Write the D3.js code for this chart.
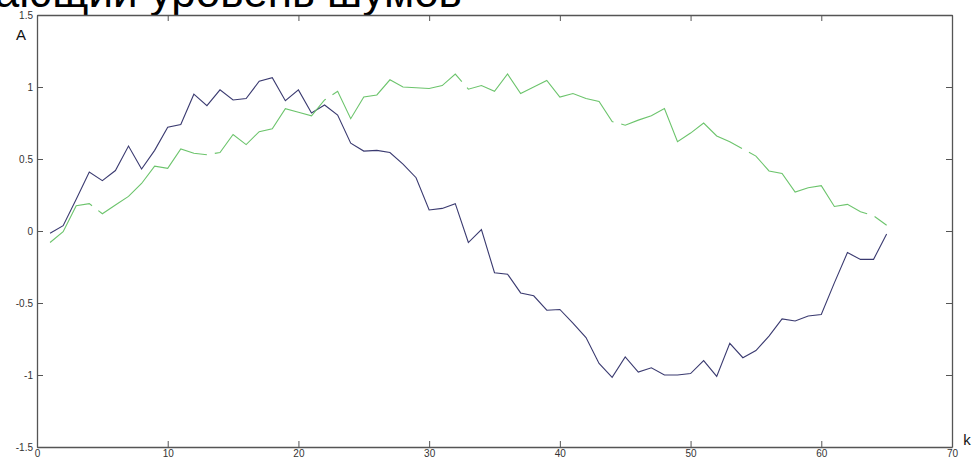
<!DOCTYPE html>
<html><head><meta charset="utf-8">
<script src="https://cdn.jsdelivr.net/npm/d3@7"></script>
<style>html,body{margin:0;padding:0;background:#fff;overflow:hidden}</style>
</head><body>
<script>
const titleText = "Нарастающий уровень шумов";
const xLabel = "k", yLabel = "A";
const xTicks = [0,10,20,30,40,50,60,70];
const yTicks = [-1.5,-1,-0.5,0,0.5,1,1.5];
const kValues = d3.range(1,66);
const blueValues = [-0.016,0.037,0.22,0.41,0.35,0.42,0.59,0.43,0.56,0.72,0.74,0.95,0.87,0.98,0.91,0.92,1.04,1.065,0.905,0.98,0.82,0.875,0.805,0.61,0.555,0.56,0.545,0.465,0.37,0.146,0.157,0.19,-0.08,0.01,-0.29,-0.30,-0.43,-0.45,-0.55,-0.545,-0.64,-0.74,-0.92,-1.016,-0.875,-0.98,-0.95,-1.0,-1.0,-0.99,-0.90,-1.01,-0.78,-0.88,-0.83,-0.73,-0.61,-0.625,-0.59,-0.58,-0.36,-0.15,-0.197,-0.197,-0.02];
const greenValues = [-0.08,-0.005,0.175,0.19,0.12,0.18,0.24,0.33,0.45,0.435,0.57,0.54,0.53,0.545,0.67,0.60,0.69,0.71,0.85,0.825,0.80,0.91,0.97,0.78,0.93,0.945,1.05,1.0,0.995,0.99,1.01,1.09,0.985,1.01,0.97,1.09,0.955,1.0,1.045,0.93,0.955,0.92,0.90,0.76,0.735,0.77,0.80,0.85,0.62,0.68,0.75,0.66,0.62,0.57,0.52,0.417,0.40,0.27,0.30,0.315,0.17,0.185,0.134,0.106,0.04];
const greenGapsK = [4.45,13.3,22.35,32.7,44.4,54.2,63.8];

const W=976,H=464;
const m={l:37,r:24,t:15,b:17};
const svg=d3.select("body").append("svg").attr("width",W).attr("height",H);
const x=d3.scaleLinear().domain([0,70]).range([m.l,W-m.r]);
const y=d3.scaleLinear().domain([-1.5,1.5]).range([H-m.b,m.t]);

// title (partly cut off at top)
svg.append("text").attr("x",462).attr("y",7).attr("text-anchor","end")
  .attr("font-family","Liberation Sans, Arial, sans-serif").attr("font-size",44).attr("fill","#000")
  .text(titleText);

const axCol="#555";
const fontF="Liberation Sans, Arial, sans-serif";
const gB=svg.append("g").attr("transform",`translate(0,${y(-1.5)})`)
  .call(d3.axisBottom(x).tickValues(xTicks).tickSizeInner(-6).tickSizeOuter(0).tickPadding(4));
const gT=svg.append("g").attr("transform",`translate(0,${y(1.5)})`)
  .call(d3.axisTop(x).tickValues(xTicks).tickSizeInner(-6).tickSizeOuter(0).tickFormat(""));
const gL=svg.append("g").attr("transform",`translate(${x(0)},0)`)
  .call(d3.axisLeft(y).tickValues(yTicks).tickSizeInner(-6).tickSizeOuter(0).tickPadding(4).tickFormat(d=>String(d)));
const gR=svg.append("g").attr("transform",`translate(${x(70)},0)`)
  .call(d3.axisRight(y).tickValues(yTicks).tickSizeInner(-6).tickSizeOuter(0).tickFormat(""));
[gB,gT,gL,gR].forEach(g=>{
  g.selectAll(".domain").attr("stroke",axCol).attr("stroke-width",1.3);
  g.selectAll(".tick line").attr("stroke",axCol);
  g.selectAll("text").attr("font-family",fontF).attr("font-size",10).attr("fill","#333");
});
gB.selectAll("text").attr("dy","0.6em");

svg.append("text").attr("x",21).attr("y",40).attr("text-anchor","middle")
  .attr("font-family",fontF).attr("font-size",15).attr("fill","#111").text(yLabel);
svg.append("text").attr("x",967).attr("y",445).attr("text-anchor","middle")
  .attr("font-family",fontF).attr("font-size",15).attr("fill","#111").text(xLabel);

const line=d3.line().x((d,i)=>x(kValues[i])).y(d=>y(d));
svg.append("path").datum(blueValues).attr("d",line).attr("fill","none")
  .attr("stroke","#3a3a70").attr("stroke-width",1.1);
const gp=svg.append("path").datum(greenValues).attr("d",line).attr("fill","none")
  .attr("stroke","#6cc46c").attr("stroke-width",1.1);

// small gaps along the green line, as in the reference
const p=gp.node(), L=p.getTotalLength();
function lenAtX(px){let lo=0,hi=L;for(let i=0;i<40;i++){const mid=(lo+hi)/2;if(p.getPointAtLength(mid).x<px)lo=mid;else hi=mid;}return lo;}
const gapW=8;let dash=[],prev=0;
greenGapsK.forEach(g=>{const l=lenAtX(x(g));dash.push(Math.max(0,l-gapW/2-prev),gapW);prev=l+gapW/2;});
dash.push(L-prev+20,0);
gp.attr("stroke-dasharray",dash.join(","));
</script>
</body></html>
